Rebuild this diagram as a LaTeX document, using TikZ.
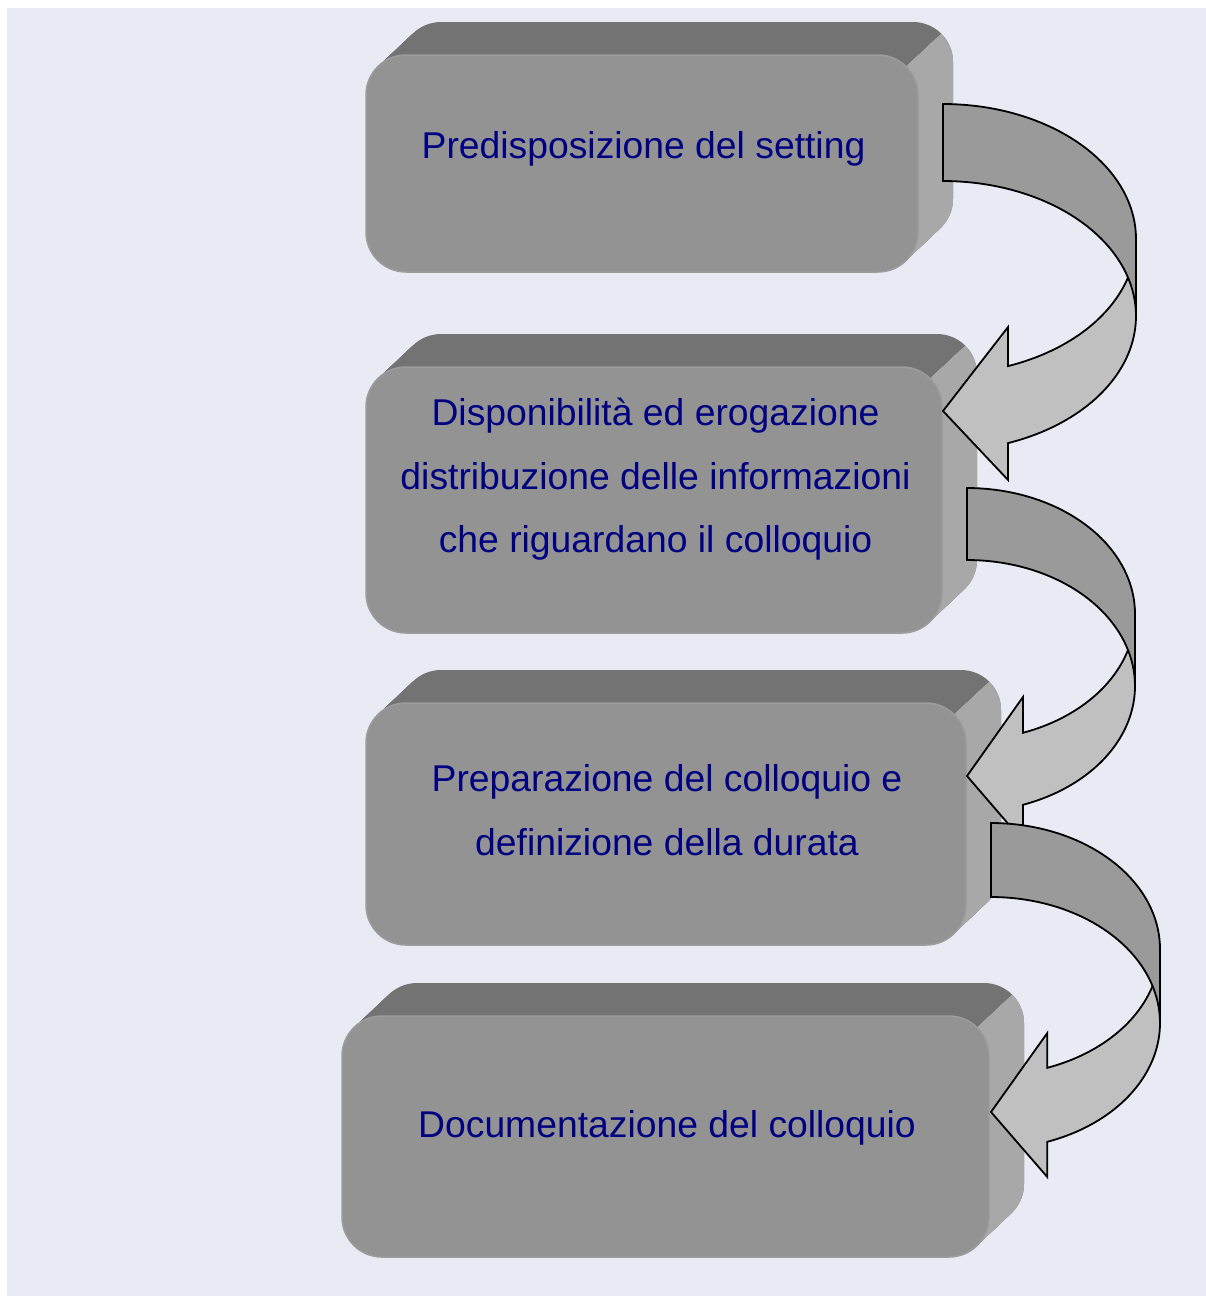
\documentclass[tikz,border=0pt]{standalone}
\usepackage{fontspec}
\setmainfont{Liberation Sans}
\definecolor{bgc}{HTML}{EAEAF4}
\definecolor{topc}{HTML}{737373}
\definecolor{sidec}{HTML}{A8A8A8}
\definecolor{frontc}{HTML}{939393}
\definecolor{edgec}{HTML}{9C9C9C}
\definecolor{darkband}{HTML}{9A9A9A}
\definecolor{lightband}{HTML}{C0C0C0}
\definecolor{txtc}{HTML}{000080}
\tikzset{
  txt/.style={text=txtc, font=\fontsize{37.3}{44}\selectfont, anchor=base, inner sep=0pt},
  bandline/.style={draw=black, line width=1.8pt, line join=miter},
  frontface/.style={fill=frontc, draw=edgec, line width=1.5pt, rounded corners=40pt, inner sep=0pt},
}
% bevelled box: x1 y1 x2 y2 name (image coordinates of the front face)
\newcommand\bevbox[5]{%
  \foreach \i in {0,...,25}{
    \fill[topc, rounded corners=40pt] ({#1+1.4*\i},{#2-1.32*\i}) rectangle ({#3+1.4*\i},{#4-1.32*\i});
  }
  \begin{scope}
    \clip ({#3+58.3},{#2-54.3}) -- ({#3+300},{#2-54.3}) -- ({#3+300},{#2+800}) -- ({#3-361.7},{#2+800}) -- ({#3-361.7},{#2+341.7}) -- cycle;
    \foreach \i in {0,...,25}{
      \fill[sidec, rounded corners=40pt] ({#1+1.4*\i},{#2-1.32*\i}) rectangle ({#3+1.4*\i},{#4-1.32*\i});
    }
  \end{scope}
  \node[frontface, minimum width={#3-#1}, minimum height={#4-#2}] (#5) at ({(#1+#3)/2},{(#2+#4)/2}) {};
}
% curved block arrow: tx rx ya yb ry thetaN barbTop barbBottom tipY
\newcommand\curvarrow[9]{%
  \draw[bandline, fill=lightband] plot[domain=#6:0, samples=40] ({#1+#2*cos(\x)},{#3+#5*sin(\x)})
    -- ({#1+#2},{#4})
    -- plot[domain=0:#6, samples=40] ({#1+#2*cos(\x)},{#4+#5*sin(\x)})
    -- ({#1+#2*cos(#6)},{#8}) -- ({#1},{#9}) -- ({#1+#2*cos(#6)},{#7}) -- cycle;
  \draw[bandline, fill=darkband] plot[domain=-90:0, samples=40] ({#1+#2*cos(\x)},{#3+#5*sin(\x)})
    -- ({#1+#2},{#4})
    -- plot[domain=0:-90, samples=40] ({#1+#2*cos(\x)},{#4+#5*sin(\x)}) -- cycle;
}
\begin{document}
\begin{tikzpicture}[x=1pt,y=-1pt]
\useasboundingbox (0,0) rectangle (1206,1296);
\fill[white] (0,0) rectangle (1206,1296);
\fill[bgc] (7,8) rectangle (1206,1296);

\bevbox{366}{55}{918}{272}{b1}
\bevbox{366}{367}{942}{633}{b2}
\bevbox{366}{703}{966}{945}{b3}
\bevbox{342}{1016}{989}{1257}{b4}

\node[txt] (t1) at (643.5,158) {Predisposizione del setting};
\node[txt] (t2a) at (655.5,425) {Disponibilità ed erogazione};
\node[txt] (t2b) at (655.5,489) {distribuzione delle informazioni};
\node[txt] (t2c) at (655.5,552) {che riguardano il colloquio};
\node[txt] (t3a) at (667,791) {Preparazione del colloquio e};
\node[txt] (t3b) at (667,855.5) {definizione della durata};
\node[txt] (t4) at (667,1137) {Documentazione del colloquio};

\curvarrow{943}{193}{239}{316}{135}{70.3}{327}{480}{411}
\curvarrow{967}{168}{614}{686}{126}{70.53}{697}{841}{776}
\curvarrow{991}{169}{949}{1023}{126}{70.54}{1033}{1177}{1112}
\end{tikzpicture}
\end{document}
